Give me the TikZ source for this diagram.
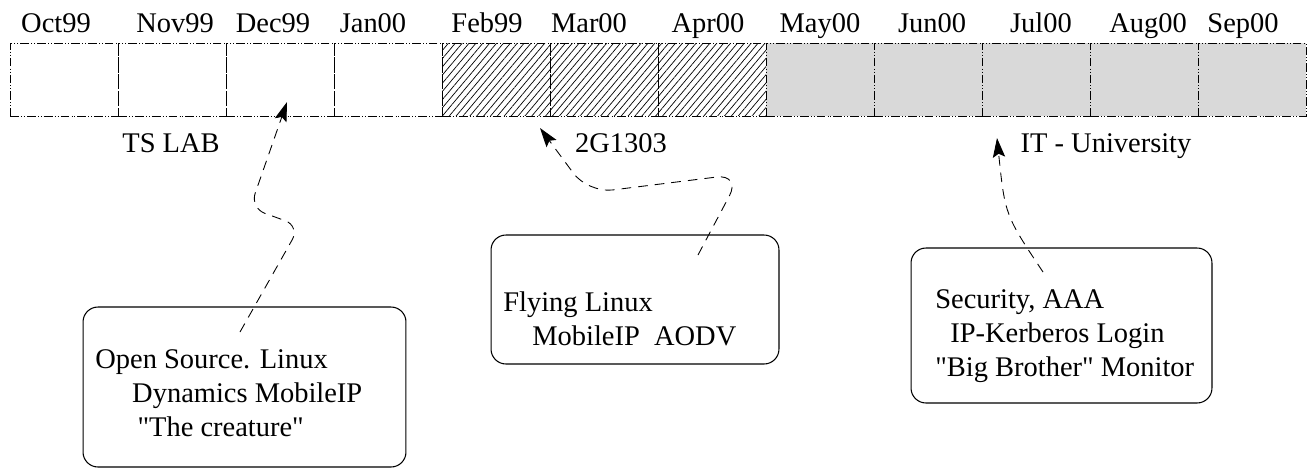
\documentclass[tikz,border=0pt]{standalone}
\usepackage{fontspec}
\setmainfont{Liberation Serif}[Ligatures=TeXOff]
\usepackage{tikz}
\usetikzlibrary{positioning,calc,patterns.meta,arrows.meta}
\definecolor{cellgray}{HTML}{D9D9D9}

\begin{document}
\begin{tikzpicture}[x=0.02cm, y=-0.02cm,
    font=\fontsize{16.2}{19.3}\selectfont,
    cell/.style={draw, line width=0.5pt,
        dash pattern=on 5pt off 1.2pt on 0.5pt off 1.2pt on 0.5pt off 1.2pt,
        minimum width=2.16cm, minimum height=1.46cm, inner sep=0pt, outer sep=0pt},
    hatched/.style={pattern={Lines[angle=50, distance=3pt, line width=0.4pt]}},
    box/.style={draw, line width=0.6pt, rounded corners=8.5pt, inner sep=0pt},
    boxtext/.style={anchor=west, align=left, inner sep=0pt},
    link/.style={dashed, dash pattern=on 5.5pt off 4pt, line width=0.5pt,
        -{Stealth[length=11pt, width=7pt, inset=2pt]}}]
    \useasboundingbox (0,0) rectangle (1312,471);

    % Months
    \foreach \m/\x in {Oct99/56, Nov99/175, Dec99/273, Jan00/373, Feb99/487, Mar00/589,
        Apr00/708, May00/820, Jun00/932, Jul00/1041, Aug00/1148, Sep00/1243}
        \node [anchor=base] (m\m) at (\x,32) {\m};

    % Cells
    \foreach \i in {1,...,4}
        \node [cell] (c\i) at ({108*\i-44},79.5) {};
    \foreach \i in {5,...,7}
        \node [cell, hatched] (c\i) at ({108*\i-44},79.5) {};
    \foreach \i in {8,...,12}
        \node [cell, fill=cellgray] (c\i) at ({108*\i-44},79.5) {};

    % Periods
    \node [anchor=base] (tslab) at (171,152) {TS LAB};
    \node [anchor=base] (course) at (621,152) {2G1303};
    \node [anchor=base] (itu) at (1106,152) {IT - University};

    % Projects
    \node [box, minimum width=6.46cm, minimum height=3.2cm] (open) at (244.5,387) {};
    \node [boxtext] (opentext) at (95,393)
        {Open Source. Linux\\\hspace{21pt}Dynamics MobileIP\\\hspace{24pt}"The creature"};
    \node [box, minimum width=5.76cm, minimum height=2.58cm] (flying) at (635,299.5) {};
    \node [boxtext] (flyingtext) at (503,319)
        {Flying Linux\\\hspace{16.5pt}MobileIP\ \ AODV};
    \node [box, minimum width=6.02cm, minimum height=3.1cm] (security) at (1061.5,325.5) {};
    \node [boxtext] (securitytext) at (935,336)
        {Security, AAA\\\hspace{8.5pt}IP-Kerberos Login\\"Big Brother" Monitor};

    % Links
    \coordinate (s1) at (240,332);
    \coordinate (t1) at (287,102);
    \coordinate (s2) at (698,255);
    \coordinate (t2) at (540,128);
    \coordinate (s3) at (1043,272);
    \coordinate (t3) at (997,138);
    \draw [link, rounded corners=9pt] (s1) -- (300,226) -- (250,208) -- (t1);
    \draw [link, rounded corners=14pt] (s2) -- (741,174) -- (588,193) -- (t2);
    \draw [link] (s3) .. controls (1005,215) .. (t3);
\end{tikzpicture}
\end{document}
